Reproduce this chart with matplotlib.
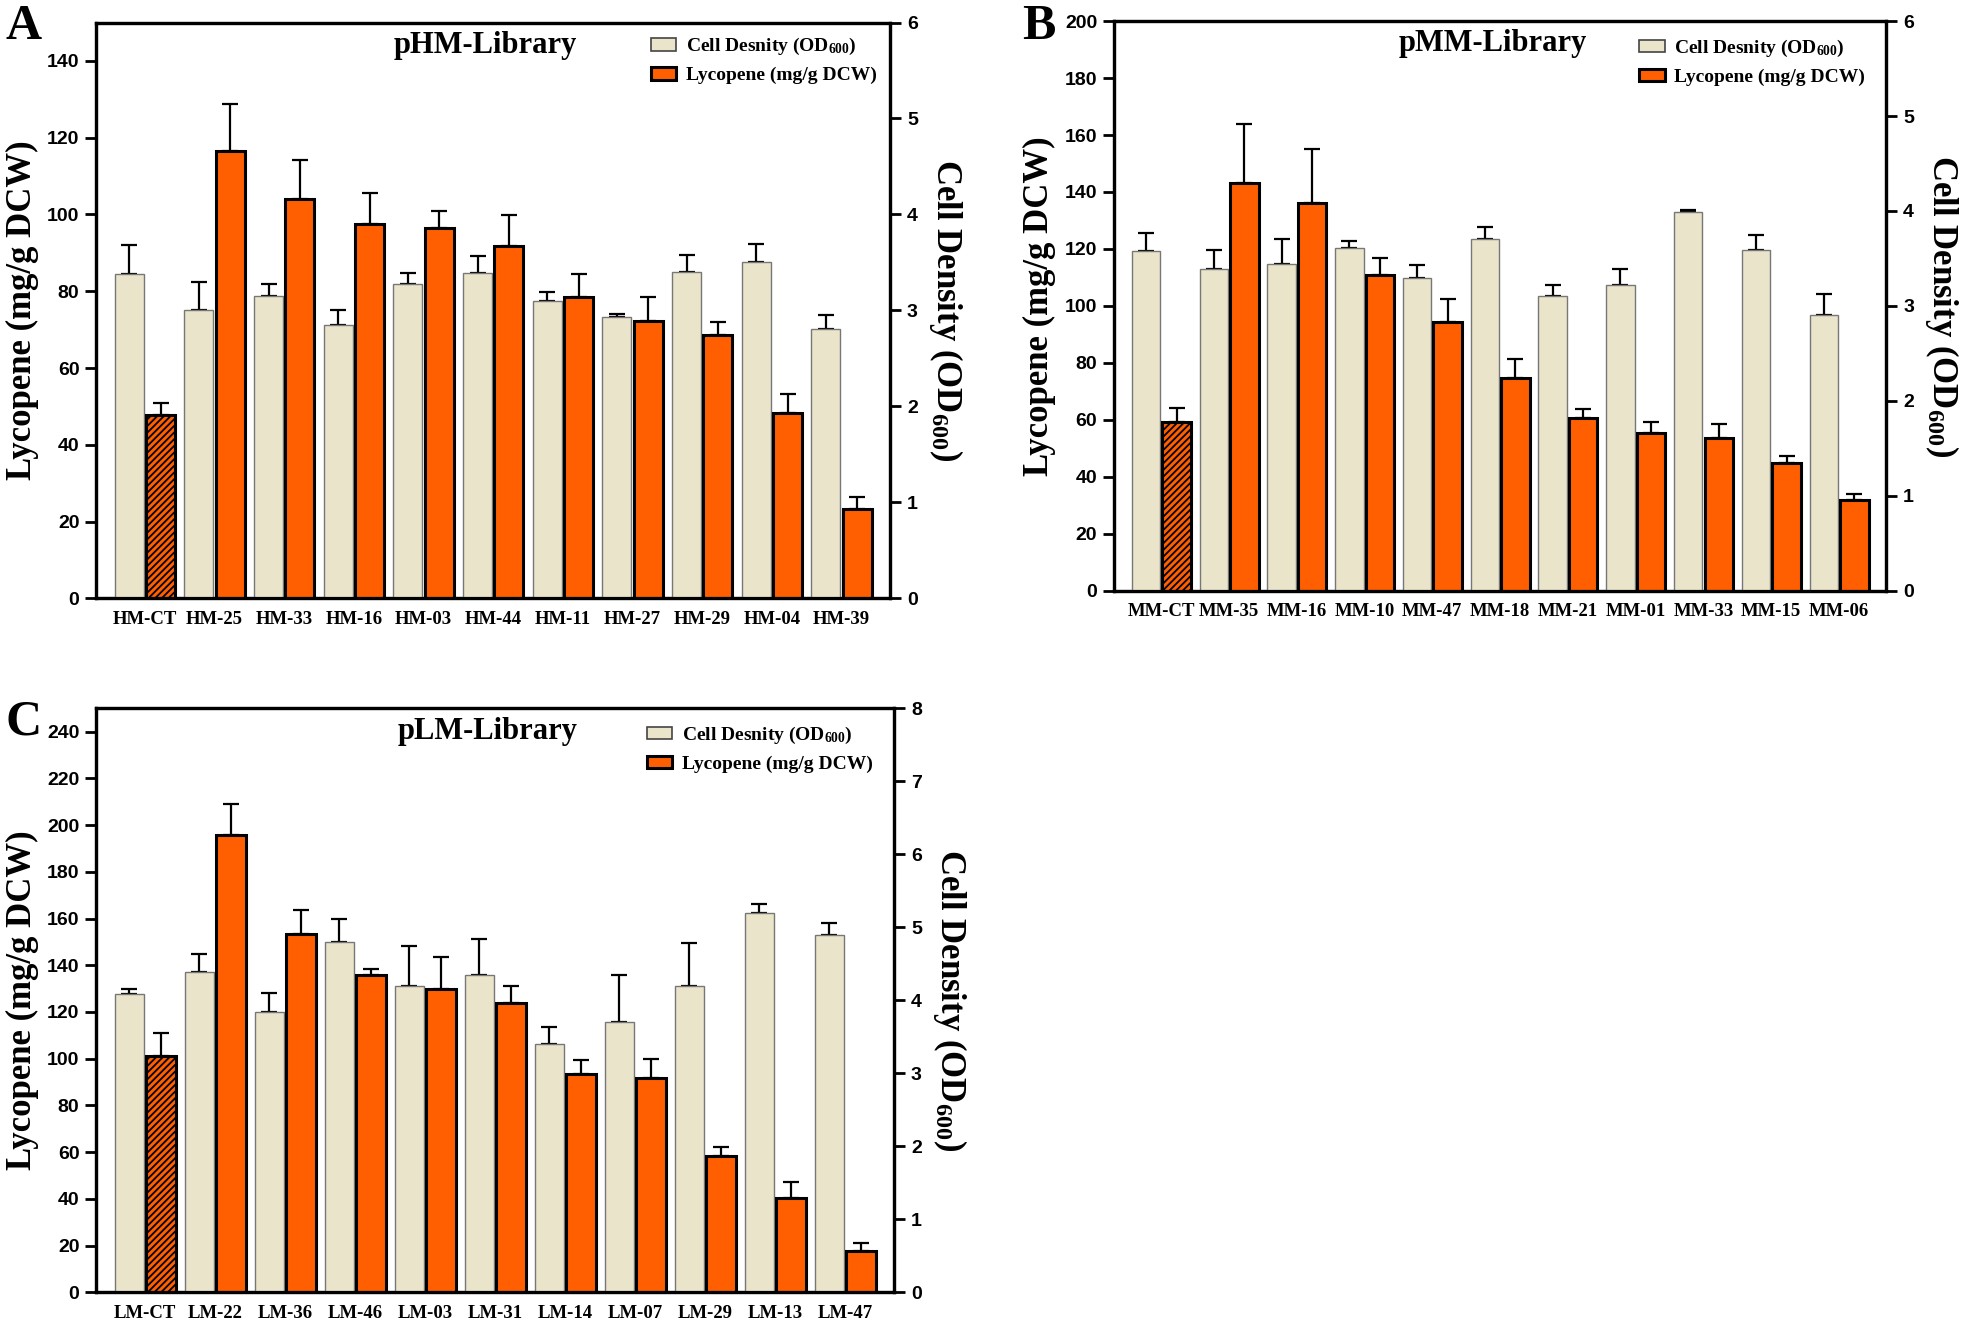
import numpy as np
import matplotlib
matplotlib.use('Agg')
import matplotlib.pyplot as plt
from matplotlib.patches import Patch

plt.rcParams['font.family'] = ['Liberation Serif', 'DejaVu Serif']
plt.rcParams['font.weight'] = 'bold'
plt.rcParams['mathtext.fontset'] = 'custom'
plt.rcParams['mathtext.rm'] = 'Liberation Serif:bold'
plt.rcParams['mathtext.default'] = 'rm'
plt.rcParams['hatch.linewidth'] = 1.3

# ---- panel A : pHM library
hm_strains = ['HM-CT', 'HM-25', 'HM-33', 'HM-16', 'HM-03', 'HM-44', 'HM-11', 'HM-27', 'HM-29', 'HM-04', 'HM-39']
hm_lyco = [47.8, 116.5, 104.0, 97.5, 96.5, 91.7, 78.5, 72.3, 68.7, 48.3, 23.2]
hm_lyco_err = [3.2, 12.2, 10.2, 8.2, 4.5, 8.1, 6.1, 6.3, 3.3, 5.0, 3.2]
hm_od = [3.38, 3.00, 3.15, 2.85, 3.28, 3.39, 3.10, 2.93, 3.40, 3.50, 2.81]
hm_od_err = [0.30, 0.30, 0.13, 0.15, 0.11, 0.18, 0.09, 0.03, 0.18, 0.19, 0.14]

# ---- panel B : pMM library
mm_strains = ['MM-CT', 'MM-35', 'MM-16', 'MM-10', 'MM-47', 'MM-18', 'MM-21', 'MM-01', 'MM-33', 'MM-15', 'MM-06']
mm_lyco = [59.3, 143.3, 136.2, 111.0, 94.3, 74.8, 60.5, 55.3, 53.7, 44.8, 31.8]
mm_lyco_err = [4.9, 20.7, 18.8, 5.8, 8.2, 6.7, 3.1, 3.8, 4.8, 2.4, 2.2]
mm_od = [3.58, 3.39, 3.44, 3.61, 3.29, 3.70, 3.10, 3.22, 3.99, 3.59, 2.90]
mm_od_err = [0.19, 0.195, 0.26, 0.07, 0.14, 0.13, 0.12, 0.165, 0.025, 0.16, 0.22]

# ---- panel C : pLM library
lm_strains = ['LM-CT', 'LM-22', 'LM-36', 'LM-46', 'LM-03', 'LM-31', 'LM-14', 'LM-07', 'LM-29', 'LM-13', 'LM-47']
lm_lyco = [101.3, 195.7, 153.3, 135.8, 130.0, 124.0, 93.3, 91.7, 58.5, 40.5, 17.5]
lm_lyco_err = [9.7, 13.3, 10.2, 2.5, 13.5, 7.0, 6.0, 8.3, 3.7, 6.8, 3.7]
lm_od = [4.09, 4.39, 3.84, 4.80, 4.19, 4.35, 3.40, 3.70, 4.19, 5.19, 4.90]
lm_od_err = [0.064, 0.24, 0.256, 0.32, 0.56, 0.49, 0.23, 0.65, 0.60, 0.13, 0.16]

beige = '#EAE4CA'
orange = '#FF5F00'
sans = ['Liberation Sans Narrow', 'Liberation Sans', 'DejaVu Sans']

fig = plt.figure(figsize=(19.61, 13.24), dpi=100)


def draw_panel(rect, letter, letter_xy, title, strains, lyco, lyco_err, od, od_err,
               ymax, odmax, leg_anchor):
    ax = fig.add_axes(rect)
    ax2 = ax.twinx()
    x = np.arange(len(strains))
    w = 0.42
    off = 0.225

    # cell density on the right axis
    ax2.bar(x - off, od, w, color=beige, edgecolor='#777777', linewidth=1.0, zorder=2)
    ax2.errorbar(x - off, od, yerr=[np.zeros(len(od)), od_err], fmt='none',
                 ecolor='black', elinewidth=1.6, capsize=6, capthick=1.6, zorder=1)

    # lycopene, scaled onto the same twin axes so both series share a layer
    scale = odmax / ymax
    ly = np.array(lyco) * scale
    bars = ax2.bar(x + off, ly, w, color=orange, edgecolor='black', linewidth=2.2, zorder=2)
    bars[0].set_hatch('/////')
    ax2.errorbar(x + off, ly, yerr=[np.zeros(len(lyco)), np.array(lyco_err) * scale],
                 fmt='none', ecolor='black', elinewidth=1.6, capsize=6, capthick=1.6, zorder=1)

    ax.set_xlim(-0.7, len(strains) - 0.3)
    ax.set_ylim(0, ymax)
    ax2.set_ylim(0, odmax)
    ax.set_yticks(np.arange(0, ymax + 1, 20))
    ax2.set_yticks(np.arange(0, odmax + 1, 1))
    ax.set_xticks(x, strains)
    ax.tick_params(axis='x', length=0, pad=9, labelsize=13.5)
    ax.tick_params(axis='y', length=8, width=2, labelsize=14, pad=4)
    ax2.tick_params(axis='y', length=8, width=2, labelsize=14, pad=4)
    for lbl in ax.get_yticklabels() + ax2.get_yticklabels():
        lbl.set_family(sans)
        lbl.set_fontweight('bold')
    for a in (ax, ax2):
        for s in a.spines.values():
            s.set_linewidth(2.3)

    ax.set_ylabel('Lycopene (mg/g DCW)', fontsize=25, fontweight='bold', labelpad=6)
    ax2.set_ylabel('Cell Density (OD$_{600}$)', fontsize=25, fontweight='bold',
                   rotation=270, labelpad=34)

    ax.text(0.49, 0.96, title, transform=ax.transAxes, ha='center', va='center',
            fontsize=22, fontweight='bold')

    handles = [Patch(facecolor=beige, edgecolor='#444444', linewidth=1.2),
               Patch(facecolor=orange, edgecolor='black', linewidth=2.2)]
    ax2.legend(handles, ['Cell Desnity (OD$_{600}$)', 'Lycopene (mg/g DCW)'],
               loc='upper right', bbox_to_anchor=leg_anchor, frameon=False,
               prop={'size': 14, 'weight': 'bold'}, handlelength=1.3,
               handleheight=0.6, handletextpad=0.5, labelspacing=0.5,
               borderaxespad=0.3)

    fig.text(letter_xy[0], letter_xy[1], letter, fontsize=36, fontweight='bold',
             ha='left', va='top')


draw_panel([0.049, 0.548, 0.405, 0.435], 'A', (0.003, 0.997), 'pHM-Library',
           hm_strains, hm_lyco, hm_lyco_err, hm_od, hm_od_err, 150, 6, (1.0, 1.0))
draw_panel([0.568, 0.554, 0.394, 0.430], 'B', (0.521, 0.997), 'pMM-Library',
           mm_strains, mm_lyco, mm_lyco_err, mm_od, mm_od_err, 200, 6, (0.99, 0.995))
draw_panel([0.049, 0.024, 0.407, 0.441], 'C', (0.003, 0.472), 'pLM-Library',
           lm_strains, lm_lyco, lm_lyco_err, lm_od, lm_od_err, 250, 8, (0.99, 0.995))

fig.savefig('out.png', dpi=100, facecolor='white')
